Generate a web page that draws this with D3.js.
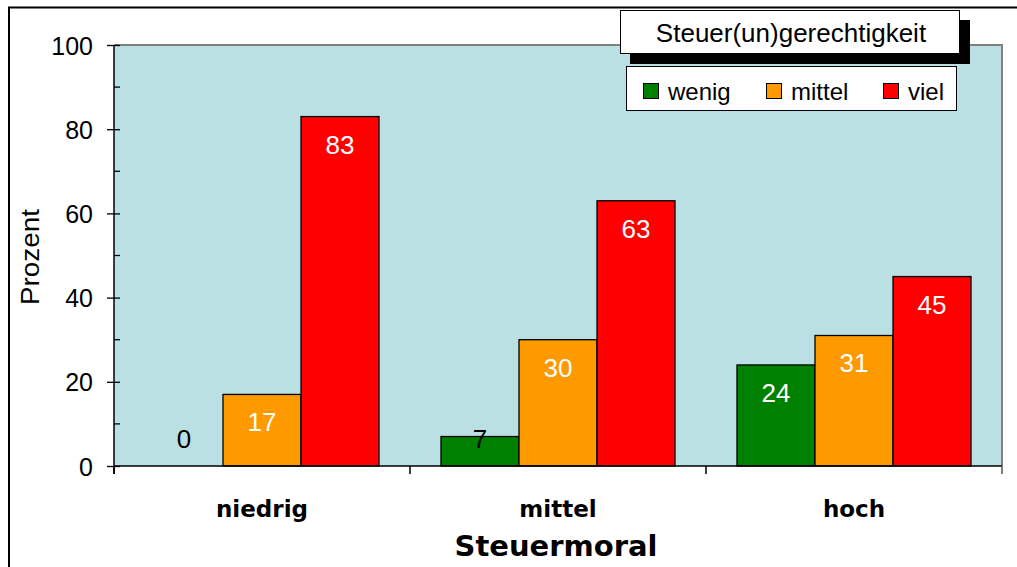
<!DOCTYPE html>
<html>
<head>
<meta charset="utf-8">
<script src="https://cdn.jsdelivr.net/npm/d3@7/dist/d3.min.js"></script>
<style>
  html, body { margin: 0; padding: 0; background: #fff; }
  svg { display: block; }
</style>
</head>
<body>
<svg id="chart" width="1017" height="567"></svg>
<script>
// ---- data ----
const categories = ["niedrig", "mittel", "hoch"];
const series = ["wenig", "mittel", "viel"];
const seriesColors = ["#008000", "#FF9900", "#FF0000"];
const valuesWenig = [0, 7, 24];
const valuesMittel = [17, 30, 31];
const valuesViel = [83, 63, 45];
const yTicks = [0, 20, 40, 60, 80, 100];
const yMinorTicks = [10, 30, 50, 70, 90];
const xTitle = "Steuermoral";
const yTitle = "Prozent";
const legendTitle = "Steuer(un)gerechtigkeit";

const seriesValues = [valuesWenig, valuesMittel, valuesViel];

const svg = d3.select("#chart");
const plot = { left: 114, top: 45, right: 1002, bottom: 466 };

// outer frame
svg.append("rect")
  .attr("x", 9).attr("y", 7.5)
  .attr("width", 1100).attr("height", 700)
  .attr("fill", "#fff").attr("stroke", "#000").attr("stroke-width", 2);

// scales
const y = d3.scaleLinear().domain([0, 100]).range([plot.bottom, plot.top]);
const x = d3.scaleBand().domain(categories).range([plot.left, plot.right]).paddingInner(0).paddingOuter(0);
const bw = x.bandwidth();
const xSub = d3.scaleBand().domain(series).range([bw * 0.1047, bw * 0.8953]).padding(0);

// plot area background
svg.append("rect")
  .attr("x", plot.left).attr("y", plot.top)
  .attr("width", plot.right - plot.left).attr("height", plot.bottom - plot.top)
  .attr("fill", "#BAE0E4");
svg.append("path")
  .attr("d", `M${plot.left},${plot.top}H${plot.right}V${plot.bottom}`)
  .attr("fill", "none").attr("stroke", "#808080").attr("stroke-width", 2);

// bars
const barData = [];
categories.forEach((c, ci) => {
  series.forEach((s, si) => {
    barData.push({ cat: c, ser: s, si: si, v: seriesValues[si][ci] });
  });
});

const g = svg.append("g");
g.selectAll("rect.bar").data(barData.filter(d => d.v > 0)).join("rect")
  .attr("class", "bar")
  .attr("x", d => x(d.cat) + xSub(d.ser))
  .attr("y", d => y(d.v))
  .attr("width", xSub.bandwidth())
  .attr("height", d => y(0) - y(d.v))
  .attr("fill", d => seriesColors[d.si])
  .attr("stroke", "#000").attr("stroke-width", 1.3);

// value labels
g.selectAll("text.val").data(barData).join("text")
  .attr("class", "val")
  .attr("x", d => x(d.cat) + xSub(d.ser) + xSub.bandwidth() / 2)
  .attr("y", d => Math.min(y(d.v) + 37, 448))
  .attr("text-anchor", "middle")
  .attr("font-family", "Liberation Sans, Arial, sans-serif")
  .attr("font-size", 26)
  .attr("fill", d => (y(d.v) + 37 <= 448.5) ? "#fff" : "#000")
  .text(d => d.v);

// y axis
const yAxis = d3.axisLeft(y).tickValues(yTicks).tickSize(7).tickPadding(0).tickFormat(d3.format("d"));
const ya = svg.append("g").attr("transform", `translate(${plot.left},0)`).call(yAxis);
ya.select(".domain").remove();
ya.selectAll(".tick line").attr("x1", 6).attr("x2", -7).attr("stroke", "#000").attr("stroke-width", 1.3);
ya.selectAll(".tick text")
  .attr("x", -21).attr("dy", "0.36em")
  .attr("font-family", "Liberation Sans, Arial, sans-serif")
  .attr("font-size", 25).attr("fill", "#000");
svg.append("g").selectAll("line").data(yMinorTicks).join("line")
  .attr("x1", plot.left).attr("x2", plot.left + 6)
  .attr("y1", d => y(d)).attr("y2", d => y(d))
  .attr("stroke", "#000").attr("stroke-width", 1.3);
svg.append("line")
  .attr("x1", plot.left).attr("x2", plot.left)
  .attr("y1", plot.top).attr("y2", plot.bottom + 8)
  .attr("stroke", "#000").attr("stroke-width", 1.5);

// x axis
svg.append("line")
  .attr("x1", plot.left).attr("x2", plot.right)
  .attr("y1", plot.bottom).attr("y2", plot.bottom)
  .attr("stroke", "#000").attr("stroke-width", 1.5);
const xTickPos = categories.map(c => x(c)).concat([x.range()[1]]);
svg.append("g").selectAll("line").data(xTickPos).join("line")
  .attr("x1", d => d).attr("x2", d => d)
  .attr("y1", plot.bottom).attr("y2", plot.bottom + 8)
  .attr("stroke", (d, i) => i === xTickPos.length - 1 ? "#555" : "#000")
  .attr("stroke-width", 1.5);
svg.append("g").selectAll("text").data(categories).join("text")
  .attr("x", d => x(d) + bw / 2)
  .attr("y", 517)
  .attr("text-anchor", "middle")
  .attr("font-family", "DejaVu Sans, Verdana, sans-serif")
  .attr("font-weight", "bold")
  .attr("font-size", 23)
  .attr("fill", "#000")
  .text(d => d);

// axis titles
svg.append("text")
  .attr("x", 556).attr("y", 556)
  .attr("text-anchor", "middle")
  .attr("font-family", "DejaVu Sans, Verdana, sans-serif")
  .attr("font-weight", "bold")
  .attr("font-size", 29)
  .attr("fill", "#000")
  .text(xTitle);
svg.append("text")
  .attr("transform", "translate(39,257) rotate(-90)")
  .attr("text-anchor", "middle")
  .attr("font-family", "Liberation Sans, Arial, sans-serif")
  .attr("font-size", 25)
  .attr("textLength", 96)
  .attr("lengthAdjust", "spacingAndGlyphs")
  .attr("fill", "#000")
  .text(yTitle);

// legend title box with shadow
svg.append("rect").attr("x", 630).attr("y", 20).attr("width", 340).attr("height", 44).attr("fill", "#000");
svg.append("rect").attr("x", 620.5).attr("y", 10.5).attr("width", 339).attr("height", 43)
  .attr("fill", "#fff").attr("stroke", "#000").attr("stroke-width", 1);
svg.append("text")
  .attr("x", 791).attr("y", 42)
  .attr("text-anchor", "middle")
  .attr("font-family", "Liberation Sans, Arial, sans-serif")
  .attr("font-size", 26)
  .attr("fill", "#000")
  .text(legendTitle);

// legend items box
svg.append("rect").attr("x", 626.5).attr("y", 66.5).attr("width", 330).attr("height", 44)
  .attr("fill", "#fff").attr("stroke", "#000").attr("stroke-width", 1);
const legX = [643, 766, 883];
const leg = svg.append("g").selectAll("g").data(series).join("g")
  .attr("transform", (d, i) => `translate(${legX[i]},83)`);
leg.append("rect").attr("x", 0.5).attr("y", 0.5).attr("width", 15).attr("height", 15)
  .attr("fill", (d, i) => seriesColors[i]).attr("stroke", "#000").attr("stroke-width", 1);
leg.append("text")
  .attr("x", 25).attr("y", 16.5)
  .attr("font-family", "Liberation Sans, Arial, sans-serif")
  .attr("font-size", 24)
  .attr("fill", "#000")
  .text(d => d);
</script>
</body>
</html>
